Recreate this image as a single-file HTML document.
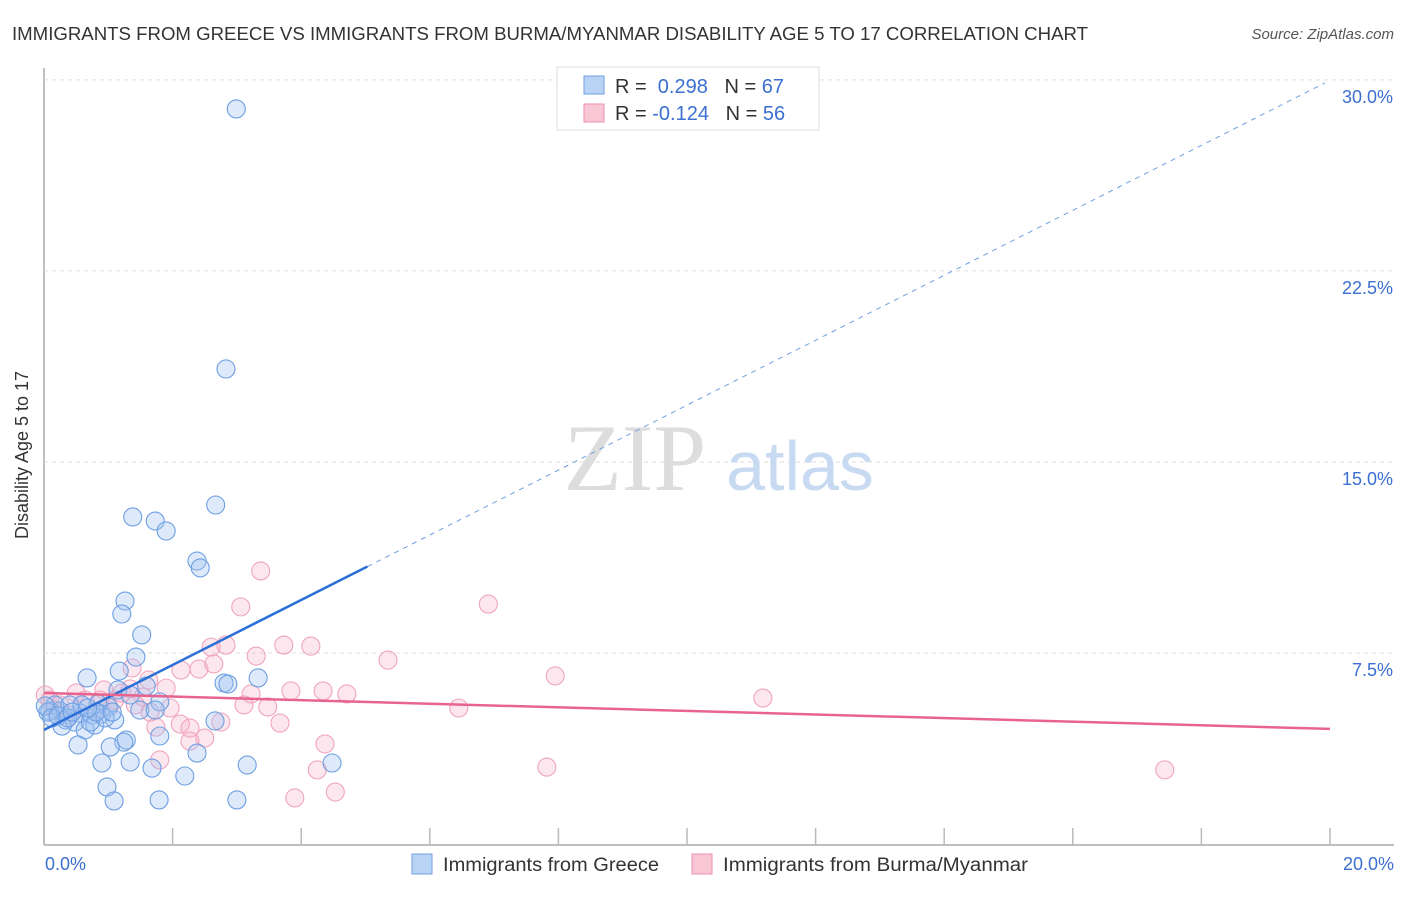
<!DOCTYPE html>
<html><head><meta charset="utf-8"><style>
body{margin:0;background:#fff;font-family:"Liberation Sans",sans-serif}
</style></head><body>
<svg width="1406" height="892" xmlns="http://www.w3.org/2000/svg">
<text x="12" y="40" font-size="18" fill="#333" textLength="1076" lengthAdjust="spacingAndGlyphs">IMMIGRANTS FROM GREECE VS IMMIGRANTS FROM BURMA/MYANMAR DISABILITY AGE 5 TO 17 CORRELATION CHART</text>
<text x="1394" y="39" font-size="15" fill="#555" font-style="italic" text-anchor="end">Source: ZipAtlas.com</text>
<g id="grid"></g>
<text x="635" y="490" font-size="95" fill="#ddd" font-family="Liberation Serif" text-anchor="middle">ZIP</text>
<text x="800" y="490" font-size="70" fill="#c8daf2" text-anchor="middle">atlas</text>
<g id="pts"></g>
<g id="lines"></g>
<text x="28" y="455" font-size="18" fill="#333" transform="rotate(-90 28 455)" text-anchor="middle">Disability Age 5 to 17</text>
<text x="45" y="870" font-size="18" fill="#3b6fd0">0.0%</text>
<text x="1394" y="870" font-size="18" fill="#3b6fd0" text-anchor="end">20.0%</text>
<g>
<rect x="557" y="67" width="262" height="63" fill="#fff" stroke="#ddd"/>
<rect x="584" y="76" width="20" height="18" fill="#b9d3f5" stroke="#6f9fe0"/>
<rect x="584" y="104" width="20" height="18" fill="#f9c6d6" stroke="#ec90ae"/>
<text x="615" y="93" font-size="20" fill="#333">R = <tspan fill="#3b6fd0">&#160;0.298</tspan>&#160;&#160;&#160;N = <tspan fill="#3b6fd0">67</tspan></text>
<text x="615" y="120" font-size="20" fill="#333">R = <tspan fill="#3b6fd0">-0.124</tspan>&#160;&#160;&#160;N = <tspan fill="#3b6fd0">56</tspan></text>
</g>
<g>
<rect x="412" y="854" width="20" height="20" fill="#b9d3f5" stroke="#6f9fe0"/>
<text x="443" y="871" font-size="19" fill="#333" textLength="216" lengthAdjust="spacingAndGlyphs">Immigrants from Greece</text>
<rect x="692" y="854" width="20" height="20" fill="#f9c6d6" stroke="#ec90ae"/>
<text x="723" y="871" font-size="19" fill="#333" textLength="305" lengthAdjust="spacingAndGlyphs">Immigrants from Burma/Myanmar</text>
</g>
</svg>
<script>
const yTicks=[7.5,15,22.5,30];
const yTickLabels=["7.5%","15.0%","22.5%","30.0%"];
const bluePx=[[236,109],[226,369],[216,505],[133,517],[155,521],[166,531],[197,561],[200,568],[125,601],[122,614],[142,635],[136,657],[119,671],[87,678],[224,683],[228,684],[258,678],[118,690],[146,686],[160,702],[140,710],[155,710],[108,707],[98,704],[92,715],[101,714],[80,713],[60,711],[50,711],[66,720],[75,722],[85,730],[95,725],[115,720],[215,721],[160,736],[126,740],[124,742],[110,747],[78,745],[197,753],[102,763],[130,762],[152,768],[185,776],[247,765],[332,763],[107,787],[114,801],[159,800],[237,800],[55,705],[70,705],[48,712],[62,726],[90,722],[105,718],[45,706],[52,718],[58,716],[68,718],[82,705],[96,712],[72,712],[88,708],[130,695],[112,712]];
const pinkPx=[[261,571],[241,607],[488,604],[211,647],[226,645],[284,645],[311,646],[256,656],[388,660],[132,668],[199,669],[181,670],[214,664],[555,676],[149,680],[166,688],[104,690],[130,689],[122,693],[76,693],[251,694],[291,691],[323,691],[347,694],[763,698],[143,697],[170,708],[244,705],[268,707],[459,708],[109,707],[96,712],[180,724],[190,728],[221,722],[280,723],[156,727],[205,738],[190,741],[325,744],[160,760],[317,770],[547,767],[1165,770],[295,798],[335,792],[50,700],[60,705],[85,700],[115,700],[135,705],[70,715],[55,710],[45,695],[100,700],[150,712]];
const greeceX=bluePx.map(p=>+((p[0]-44)/64.3).toFixed(2));
const greeceY=bluePx.map(p=>+((844-p[1])/25.47).toFixed(2));
const burmaX=pinkPx.map(p=>+((p[0]-44)/64.3).toFixed(2));
const burmaY=pinkPx.map(p=>+((844-p[1])/25.47).toFixed(2));
const greeceFit=[4.48,1.275];
const burmaFit=[5.93,-0.0705];
const X=v=>44+v*64.3, Y=v=>844-v*25.47;
const NS="http://www.w3.org/2000/svg";
function mk(t,a,parent){const e=document.createElementNS(NS,t);for(const k in a)e.setAttribute(k,a[k]);document.getElementById(parent).appendChild(e);return e;}
let ax=mk('line',{x1:44,y1:68,x2:44,y2:845,stroke:'#aaa','stroke-width':1.5},'grid');


let bx=mk('line',{x1:44,y1:845,x2:1394,y2:845,stroke:'#aaa','stroke-width':1.5},'grid');


for(let i=1;i<=10;i++){const t=mk('line',{x1:44+i*128.6,y1:828,x2:44+i*128.6,y2:845,stroke:'#bbb','stroke-width':1.5},'grid');

}
yTicks.forEach((v,i)=>{const g=mk('line',{x1:44,y1:Y(v),x2:1394,y2:Y(v),stroke:'#ddd','stroke-dasharray':'4,4'},'grid');


const t=mk('text',{x:1393,y:Y(v)+23,'font-size':18,fill:'#3b6fd0','text-anchor':'end'},'grid');t.textContent=yTickLabels[i];

});
burmaX.forEach((x,i)=>{const c=mk('circle',{cx:X(x),cy:Y(burmaY[i]),r:9,fill:'rgba(247,176,200,0.3)',stroke:'#f0a4bd','stroke-width':1.1},'pts');

});
greeceX.forEach((x,i)=>{const c=mk('circle',{cx:X(x),cy:Y(greeceY[i]),r:9,fill:'rgba(160,195,240,0.35)',stroke:'#6d9fe2','stroke-width':1.1},'pts');

});
let l1=mk('line',{x1:X(0),y1:Y(greeceFit[0]),x2:X(5.03),y2:Y(greeceFit[0]+greeceFit[1]*5.03),stroke:'#2c6fd6','stroke-width':2.5},'lines');


let l2=mk('line',{x1:X(5.03),y1:Y(greeceFit[0]+greeceFit[1]*5.03),x2:X(19.92),y2:Y(greeceFit[0]+greeceFit[1]*19.92),stroke:'#6f9fe0','stroke-width':1,'stroke-dasharray':'5,5'},'lines');


let l3=mk('line',{x1:X(0),y1:Y(burmaFit[0]),x2:X(20),y2:Y(burmaFit[0]+burmaFit[1]*20),stroke:'#e8648f','stroke-width':2.5},'lines');


</script>
</body></html>
